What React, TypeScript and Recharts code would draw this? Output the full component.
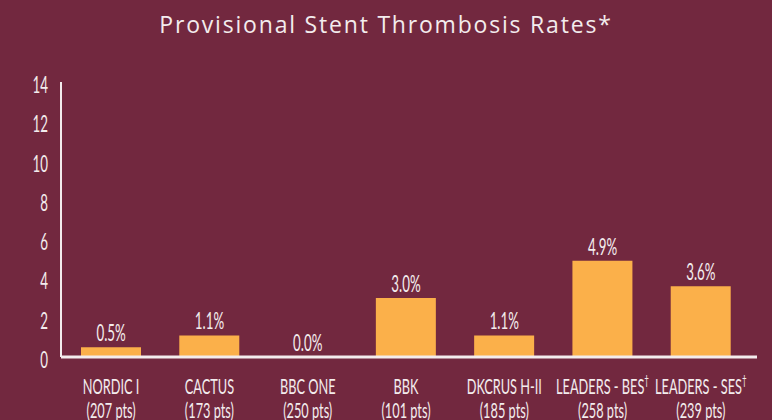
import React from "react";
import { ComposedChart, Bar, Line, XAxis, YAxis, LabelList } from "recharts";

const categories = ["NORDIC I", "CACTUS", "BBC ONE", "BBK", "DKCRUS H-II", "LEADERS - BES†", "LEADERS - SES†"];
const patients = ["(207 pts)", "(173 pts)", "(250 pts)", "(101 pts)", "(185 pts)", "(258 pts)", "(239 pts)"];
const rates = [0.5, 1.1, 0.0, 3.0, 1.1, 4.9, 3.6];
const yTicks = [0, 2, 4, 6, 8, 10, 12, 14];
const title = "Provisional Stent Thrombosis Rates*";

const data = categories.map((c, i) => ({ name: c, pts: patients[i], rate: rates[i] }));

const BG = "#72283f";
const BAR = "#fbb04a";
const TXT = "#f3eced";
const FONT = "Lato, 'Liberation Sans', Arial, sans-serif";
const SX = 0.58;

const XTick = (props: any) => {
  const { x, y, payload, index } = props;
  const label: string = payload.value;
  const hasDagger = label.endsWith("†");
  const main = hasDagger ? label.slice(0, -1) : label;
  return (
    <g>
      <text
        transform={`translate(${x},${y + 37}) scale(${SX},1)`}
        textAnchor="middle"
        fill={TXT}
        fontSize={22}
        fontFamily={FONT}
      >
        {main}
        {hasDagger && (
          <tspan fontSize={14} dy={-9}>
            †
          </tspan>
        )}
      </text>
      <text
        transform={`translate(${x},${y + 61}) scale(${SX},1)`}
        textAnchor="middle"
        fill={TXT}
        fontSize={22}
        fontFamily={FONT}
      >
        {patients[index]}
      </text>
    </g>
  );
};

const YTick = (props: any) => {
  const { x, y, payload } = props;
  return (
    <text
      transform={`translate(${x},${y + 11}) scale(${SX},1)`}
      textAnchor="end"
      fill={TXT}
      fontSize={23}
      fontFamily={FONT}
    >
      {payload.value}
    </text>
  );
};

const ValueLabel = (props: any) => {
  const { x, y, value } = props;
  return (
    <text
      transform={`translate(${x},${y - 6}) scale(${SX},1)`}
      textAnchor="middle"
      fill={TXT}
      fontSize={23}
      fontFamily={FONT}
    >
      {Number(value).toFixed(1) + "%"}
    </text>
  );
};

export default function App() {
  return (
    <div style={{ position: "fixed", left: 0, top: 0, width: 772, height: 420, background: BG }}>
      <div
        style={{
          position: "absolute",
          left: 0,
          top: 8,
          width: 772,
          textAlign: "center",
          color: TXT,
          fontFamily: "'Open Sans', sans-serif",
          fontSize: 23,
          letterSpacing: "1.8px",
          lineHeight: "32px",
        }}
      >
        {title}
      </div>
      <ComposedChart
        width={772}
        height={420}
        data={data}
        margin={{ top: 82, right: 15, bottom: 0, left: 0 }}
        barSize={60}
      >
        <YAxis
          type="number"
          domain={[0, 14]}
          ticks={yTicks}
          width={61}
          tickSize={0}
          tickMargin={13}
          tickLine={false}
          axisLine={{ stroke: TXT, strokeWidth: 2 }}
          tick={<YTick />}
          interval={0}
        />
        <XAxis
          dataKey="name"
          height={63}
          tickSize={0}
          tickMargin={0}
          tickLine={false}
          axisLine={{ stroke: TXT, strokeWidth: 3 }}
          tick={<XTick />}
          interval={0}
          padding={{ left: 1, right: 7 }}
        />
        <Bar dataKey="rate" fill={BAR} isAnimationActive={false} />
        <Line
          dataKey="rate"
          stroke="none"
          dot={false}
          activeDot={false}
          legendType="none"
          isAnimationActive={false}
        >
          <LabelList dataKey="rate" content={<ValueLabel />} />
        </Line>
      </ComposedChart>
    </div>
  );
}
